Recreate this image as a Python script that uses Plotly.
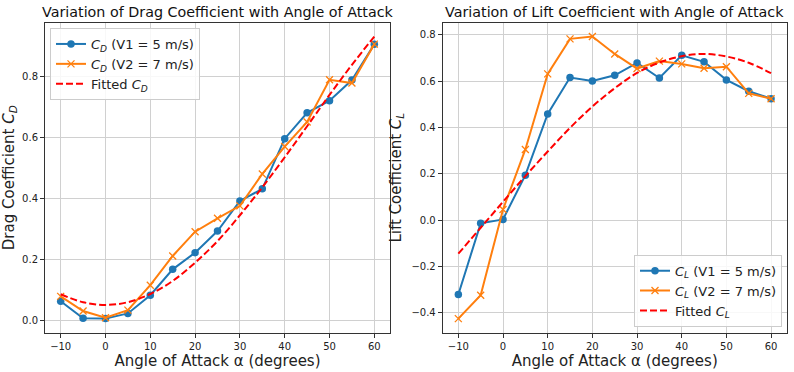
import plotly.graph_objects as go

alpha = [-10, -5, 0, 5, 10, 15, 20, 25, 30, 35, 40, 45, 50, 55, 60]

cd_v1 = [0.062, 0.006, 0.005, 0.022, 0.082, 0.167, 0.222, 0.293, 0.392, 0.432, 0.597, 0.682, 0.722, 0.790, 0.908]
cd_v2 = [0.078, 0.030, 0.008, 0.033, 0.115, 0.211, 0.291, 0.335, 0.376, 0.481, 0.571, 0.652, 0.791, 0.780, 0.908]
cd_fit = [0.085, 0.059, 0.050, 0.059, 0.086, 0.129, 0.189, 0.260, 0.345, 0.437, 0.536, 0.638, 0.741, 0.840, 0.933]

cl_v1 = [-0.321, -0.014, 0.003, 0.194, 0.458, 0.615, 0.600, 0.625, 0.678, 0.613, 0.711, 0.683, 0.605, 0.556, 0.524]
cl_v2 = [-0.425, -0.324, 0.046, 0.305, 0.631, 0.782, 0.792, 0.717, 0.654, 0.686, 0.674, 0.655, 0.662, 0.547, 0.524]
cl_fit = [-0.145, -0.033, 0.079, 0.190, 0.296, 0.398, 0.490, 0.569, 0.635, 0.680, 0.707, 0.717, 0.706, 0.679, 0.634]

x_ticks = [-10, 0, 10, 20, 30, 40, 50, 60]

BLUE = "#1f77b4"
ORANGE = "#ff7f0e"
FONT = "DejaVu Sans"

fig = go.Figure()

def add_series(xa, ya, v1, v2, fit, sub, legend):
    fig.add_trace(go.Scatter(x=alpha, y=v1, mode="lines+markers", xaxis=xa, yaxis=ya,
                             name=f"<i>C</i><sub><i>{sub}</i></sub> (V1 = 5 m/s)",
                             line=dict(color=BLUE, width=2),
                             marker=dict(symbol="circle", size=7.5, color=BLUE),
                             legend=legend))
    fig.add_trace(go.Scatter(x=alpha, y=v2, mode="lines+markers", xaxis=xa, yaxis=ya,
                             name=f"<i>C</i><sub><i>{sub}</i></sub> (V2 = 7 m/s)",
                             line=dict(color=ORANGE, width=2),
                             marker=dict(symbol="x-thin", size=7, color=ORANGE,
                                         line=dict(color=ORANGE, width=1.3)),
                             legend=legend))
    fig.add_trace(go.Scatter(x=alpha, y=fit, mode="lines", xaxis=xa, yaxis=ya,
                             name=f"Fitted <i>C</i><sub><i>{sub}</i></sub>",
                             line=dict(color="red", width=2, dash="7px,3px", shape="spline"),
                             legend=legend))

add_series("x", "y", cd_v1, cd_v2, cd_fit, "D", "legend")
add_series("x2", "y2", cl_v1, cl_v2, cl_fit, "L", "legend2")

axis_common = dict(showline=True, mirror=True, linecolor="#333", linewidth=1,
                   showgrid=True, gridcolor="#d0d0d0", gridwidth=1,
                   ticks="outside", ticklen=4, tickcolor="#333",
                   tickfont=dict(family=FONT, size=10, color="#222"),
                   zeroline=False)

ydom = [1 - 332.7 / 372, 1 - 22.7 / 372]

fig.update_layout(
    width=794, height=372,
    margin=dict(l=0, r=0, t=0, b=0),
    plot_bgcolor="white", paper_bgcolor="white",
    font=dict(family=FONT, color="#222"),
    xaxis=dict(domain=[45 / 794, 390 / 794], range=[-13.5, 63.5], tickvals=x_ticks,
               title=dict(text="Angle of Attack α (degrees)", font=dict(size=15), standoff=4),
               anchor="y", **axis_common),
    yaxis=dict(domain=ydom, range=[-0.0414, 0.9786], tickvals=[0.0, 0.2, 0.4, 0.6, 0.8],
               tickformat=".1f",
               title=dict(text="Drag Coefficient <i>C</i><sub><i>D</i></sub>", font=dict(size=15), standoff=6),
               anchor="x", **axis_common),
    xaxis2=dict(domain=[442.7 / 794, 786.7 / 794], range=[-13.5, 63.5], tickvals=x_ticks,
                title=dict(text="Angle of Attack α (degrees)", font=dict(size=15), standoff=4),
                anchor="y2", **axis_common),
    yaxis2=dict(domain=ydom, range=[-0.4858, 0.8518], tickvals=[-0.4, -0.2, 0.0, 0.2, 0.4, 0.6, 0.8],
                tickformat=".1f",
                title=dict(text="Lift Coefficient <i>C</i><sub><i>L</i></sub>", font=dict(size=15), standoff=6),
                anchor="x2", **axis_common),
    legend=dict(x=50 / 794, y=1 - 28 / 372, xanchor="left", yanchor="top",
                bgcolor="rgba(255,255,255,0.85)", bordercolor="#ccc", borderwidth=1,
                font=dict(family=FONT, size=13), tracegroupgap=0, itemwidth=30),
    legend2=dict(x=782 / 794, y=1 - 326.7 / 372, xanchor="right", yanchor="bottom",
                 bgcolor="rgba(255,255,255,0.85)", bordercolor="#ccc", borderwidth=1,
                 font=dict(family=FONT, size=13), tracegroupgap=0, itemwidth=30),
    annotations=[
        dict(text="Variation of Drag Coefficient with Angle of Attack", xref="paper", yref="paper",
             x=(45 + 390) / 2 / 794, y=1 - 12 / 372, xanchor="center", yanchor="middle",
             showarrow=False, font=dict(size=14.3, family=FONT, color="#111")),
        dict(text="Variation of Lift Coefficient with Angle of Attack", xref="paper", yref="paper",
             x=(442.7 + 786.7) / 2 / 794, y=1 - 12 / 372, xanchor="center", yanchor="middle",
             showarrow=False, font=dict(size=14.3, family=FONT, color="#111")),
    ],
)

fig.write_html("out.html")
